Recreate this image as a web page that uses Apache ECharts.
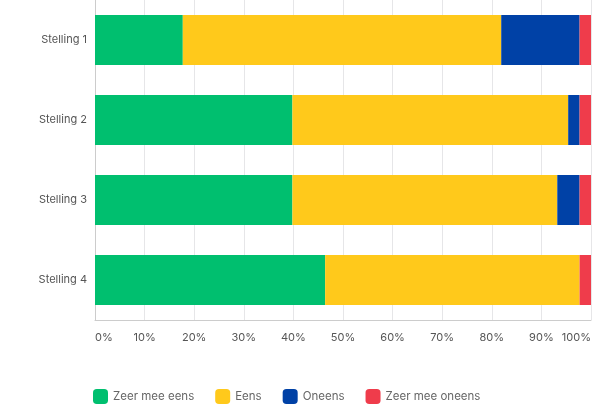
<!DOCTYPE html>
<html>
<head>
<meta charset="utf-8">
<script src="https://cdn.jsdelivr.net/npm/echarts@6/dist/echarts.min.js"></script>
<style>
html,body{margin:0;padding:0;background:#fff;}
#chart{width:594px;height:415px;}
</style>
</head>
<body>
<div id="chart"></div>
<script>
const categories = ['Stelling 1', 'Stelling 2', 'Stelling 3', 'Stelling 4'];
const seriesNames = ['Zeer mee eens', 'Eens', 'Oneens', 'Zeer mee oneens'];
const zeerMeeEens = [17.7, 39.8, 39.8, 46.4];
const eens = [64.2, 55.6, 53.4, 51.3];
const oneens = [15.8, 2.3, 4.5, 0];
const zeerMeeOneens = [2.3, 2.3, 2.3, 2.3];
const xTicks = [0, 10, 20, 30, 40, 50, 60, 70, 80, 90, 100];
const colors = ['#00bf6f', '#ffc91b', '#0041a6', '#ef3c4b'];

const values = [zeerMeeEens, eens, oneens, zeerMeeOneens];
const font = 'Inter, "Noto Sans", sans-serif';

const chart = echarts.init(document.getElementById('chart'), null, {renderer: 'canvas'});
chart.setOption({
  animation: false,
  backgroundColor: '#ffffff',
  textStyle: {fontFamily: font},
  grid: {left: 95, right: 1, top: 0, bottom: 95, containLabel: false},
  legend: {
    bottom: 6, left: 88,
    itemWidth: 15, itemHeight: 15, itemGap: 21,
    icon: 'roundRect',
    textStyle: {fontFamily: font, fontSize: 11.5, color: '#666'},
    data: seriesNames
  },
  xAxis: {
    type: 'value', min: xTicks[0], max: xTicks[xTicks.length - 1], interval: 10,
    axisLine: {show: true, lineStyle: {color: '#cccccc'}},
    axisTick: {show: false},
    splitLine: {show: true, lineStyle: {color: '#e6e6e8'}},
    axisLabel: {formatter: '{value}%', color: '#555', fontSize: 11, fontFamily: font,
                margin: 12, alignMinLabel: 'left', alignMaxLabel: 'right'}
  },
  yAxis: {
    type: 'category', data: categories, inverse: true,
    axisLine: {show: true, lineStyle: {color: '#cccccc'}},
    axisTick: {show: false},
    axisLabel: {color: '#555', fontSize: 11, fontFamily: font, margin: 8}
  },
  series: seriesNames.map((n, i) => ({
    name: n, type: 'bar', stack: 'total', barWidth: 50,
    itemStyle: {color: colors[i]},
    data: values[i]
  }))
});
</script>
</body>
</html>
